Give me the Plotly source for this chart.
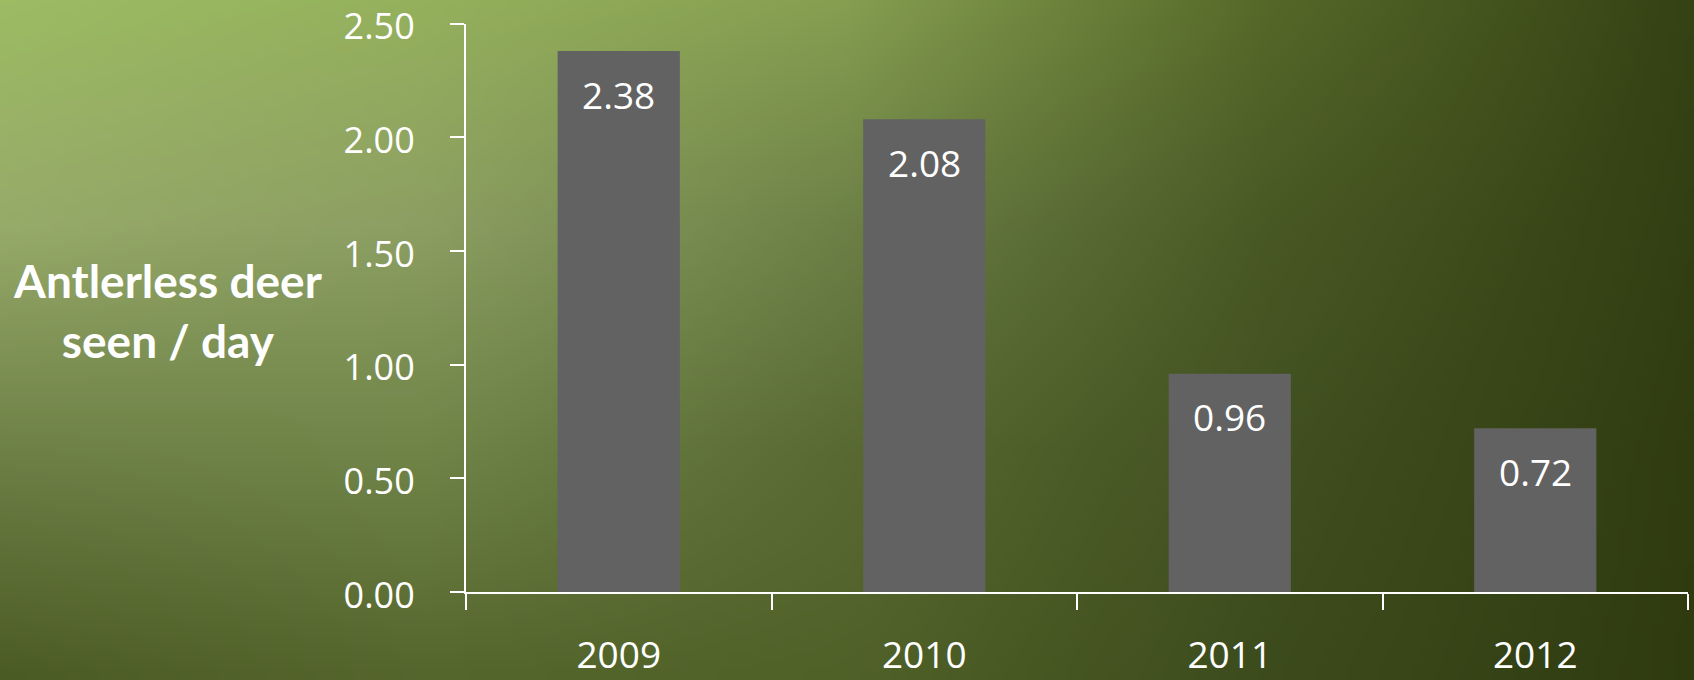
import base64
import struct
import zlib
import numpy as np
import plotly.graph_objects as go

# Data
years = ["2009", "2010", "2011", "2012"]
deer_per_day = [2.38, 2.08, 0.96, 0.72]
y_ticks = [0, 0.5, 1.0, 1.5, 2.0, 2.5]
y_title = "Antlerless deer<br>seen / day"

W, H = 1694, 680

# ---- background gradient (styling only): bilinear blend of a few colour nodes ----
node_colors = np.array([
    [[156, 187, 99], [148, 176, 92], [133, 158, 80], [85, 104, 40], [52, 66, 20]],
    [[150, 170, 105], [140, 158, 98], [108, 128, 70], [72, 88, 36], [50, 63, 18]],
    [[110, 128, 70], [112, 132, 72], [88, 106, 50], [65, 80, 32], [48, 60, 16]],
    [[75, 91, 36], [85, 102, 45], [80, 97, 40], [60, 75, 28], [47, 59, 15]],
], dtype=float)


def make_bg_png(nodes, w=212, h=85):
    ny, nx, _ = nodes.shape
    gx = np.linspace(0, nx - 1, w)
    gy = np.linspace(0, ny - 1, h)
    x0 = np.clip(np.floor(gx).astype(int), 0, nx - 2)
    y0 = np.clip(np.floor(gy).astype(int), 0, ny - 2)
    fx = (gx - x0)[None, :, None]
    fy = (gy - y0)[:, None, None]
    c00 = nodes[y0][:, x0]
    c01 = nodes[y0][:, x0 + 1]
    c10 = nodes[y0 + 1][:, x0]
    c11 = nodes[y0 + 1][:, x0 + 1]
    img = (c00 * (1 - fx) * (1 - fy) + c01 * fx * (1 - fy)
           + c10 * (1 - fx) * fy + c11 * fx * fy)
    img = np.clip(np.round(img), 0, 255).astype(np.uint8)
    raw = b"".join(b"\x00" + img[r].tobytes() for r in range(h))

    def chunk(tag, data):
        c = struct.pack(">I", len(data)) + tag + data
        return c + struct.pack(">I", zlib.crc32(tag + data) & 0xffffffff)

    png = b"\x89PNG\r\n\x1a\n"
    png += chunk(b"IHDR", struct.pack(">IIBBBBB", w, h, 8, 2, 0, 0, 0))
    png += chunk(b"IDAT", zlib.compress(raw, 9))
    png += chunk(b"IEND", b"")
    return "data:image/png;base64," + base64.b64encode(png).decode()


bg_uri = make_bg_png(node_colors)

fig = go.Figure()
fig.add_trace(go.Bar(
    x=years, y=deer_per_day, width=0.4,
    marker=dict(color="#626262", line=dict(width=0)),
    hoverinfo="skip",
))

annotations = []
for i, v in enumerate(deer_per_day):
    annotations.append(dict(
        xref="x", yref="y", x=i, y=v, text=f"{v:.2f}", showarrow=False,
        xanchor="center", yanchor="middle", yshift=-43,
        font=dict(family="Open Sans", size=37, color="white")))

annotations.append(dict(
    xref="paper", yref="paper", x=167 / W, y=0.543,
    text=y_title, showarrow=False, align="center",
    xanchor="center", yanchor="middle",
    font=dict(family="Lato", size=46, color="white", weight="bold")))

fig.update_layout(
    width=W, height=H,
    margin=dict(l=0, r=0, t=0, b=0, pad=0),
    paper_bgcolor="#2f3b0f", plot_bgcolor="rgba(0,0,0,0)",
    showlegend=False,
    annotations=annotations,
    images=[dict(source=bg_uri, xref="paper", yref="paper",
                 x=0, y=1, sizex=1, sizey=1, xanchor="left", yanchor="top",
                 sizing="stretch", layer="below")],
    xaxis=dict(
        type="category", domain=[466 / W, 1688 / W], range=[-0.5, 3.5],
        tickson="boundaries", ticks="outside", ticklen=16, tickwidth=2,
        tickcolor="white", showline=True, linecolor="white", linewidth=2,
        showgrid=False, zeroline=False, automargin=False,
        ticklabelstandoff=30, ticklabeloverflow="allow",
        tickfont=dict(family="Open Sans", size=37, color="white"),
    ),
    yaxis=dict(
        domain=[(H - 592) / H, (H - 23.8) / H], range=[0, 2.5],
        tickvals=y_ticks, tickformat=".2f",
        ticks="outside", ticklen=14, tickwidth=2, tickcolor="white",
        showline=True, linecolor="white", linewidth=2,
        showgrid=False, zeroline=False, automargin=False,
        ticklabelstandoff=28, ticklabelshift=3, ticklabeloverflow="allow",
        tickfont=dict(family="Open Sans", size=36, color="white"),
    ),
)

fig.write_html(
    "out.html",
    config={"displayModeBar": False},
    post_script="document.body.style.margin='0';document.body.style.overflow='hidden';",
)
